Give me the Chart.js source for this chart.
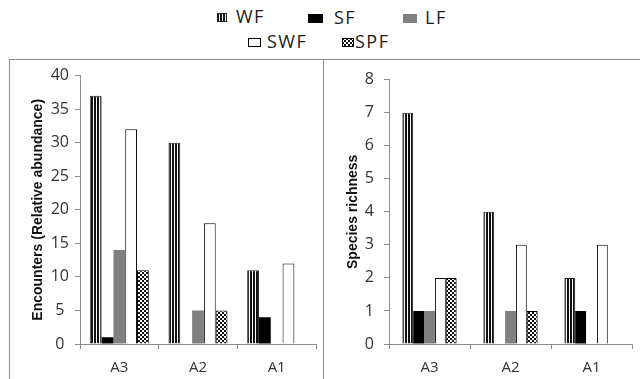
<!DOCTYPE html>
<html>
<head>
<meta charset="utf-8">
<script src="https://cdn.jsdelivr.net/npm/chart.js@4.4.0/dist/chart.umd.min.js"></script>
<style>
  body { margin: 0; background: #fff; width: 640px; height: 379px; overflow: hidden; position: relative; font-family: "Open Sans", sans-serif; }
  .frame { position: absolute; left: 9px; top: 59px; width: 700px; height: 400px; border-top: 1px solid #8c8c8c; border-left: 1px solid #8c8c8c; }
  .divider { position: absolute; left: 323px; top: 59px; width: 1px; height: 400px; background: #8c8c8c; }
  #c1 { position: absolute; left: 10px; top: 60px; }
  #c2 { position: absolute; left: 324px; top: 60px; }
  .lg-text { position: absolute; font-size: 18px; line-height: 1; color: #1a1a1a; letter-spacing: 1.5px; white-space: nowrap; }
  .lg-box { position: absolute; }
</style>
</head>
<body>
<div class="frame"></div>
<div class="divider"></div>
<div id="legend"></div>
<canvas id="c1" width="313" height="319"></canvas>
<canvas id="c2" width="316" height="319"></canvas>
<script>
const categories = ['A3', 'A2', 'A1'];
const seriesNames = ['WF', 'SF', 'LF', 'SWF', 'SPF'];

// Encounters (relative abundance)
const encWF = [37, 30, 11];
const encSF = [1, 0, 4];
const encLF = [14, 5, 0];
const encSWF = [32, 18, 12];
const encSPF = [11, 5, 0];

// Species richness
const richWF = [7, 4, 2];
const richSF = [1, 0, 1];
const richLF = [1, 1, 0];
const richSWF = [2, 3, 3];
const richSPF = [2, 1, 0];

function makePattern(w, h, draw) {
  const c = document.createElement('canvas');
  c.width = w; c.height = h;
  const g = c.getContext('2d');
  g.fillStyle = '#fff';
  g.fillRect(0, 0, w, h);
  g.fillStyle = '#111';
  draw(g);
  return g.createPattern(c, 'repeat');
}

const stripes = makePattern(3, 3, g => g.fillRect(0, 0, 2, 3));
const checker = makePattern(4, 4, g => { g.fillRect(0, 0, 2, 2); g.fillRect(2, 2, 2, 2); });

const styles = [
  { bg: stripes, border: '#222', width: 1 },
  { bg: '#000', border: '#000', width: 0 },
  { bg: '#808080', border: '#808080', width: 0 },
  { bg: '#fff', border: '#000', width: 1 },
  { bg: checker, border: '#000', width: 1 }
];

// legend item placement: swatch x, swatch w, text x, row centre y
const legendPlace = [
  [217, 10, 236, 17], [308, 15, 334, 18], [403, 14, 425, 18],
  [248, 13, 267, 42], [342, 12, 355, 42]
];

const legend = document.getElementById('legend');
seriesNames.forEach((name, i) => {
  const [mx, mw, tx, y] = legendPlace[i];
  const box = document.createElement('canvas');
  box.width = mw; box.height = 9;
  box.className = 'lg-box';
  box.style.left = mx + 'px';
  box.style.top = (y - 4) + 'px';
  const g = box.getContext('2d');
  g.fillStyle = styles[i].bg;
  g.fillRect(0, 0, mw, 9);
  if (styles[i].width) {
    g.strokeStyle = styles[i].border;
    g.lineWidth = 1;
    g.strokeRect(0.5, 0.5, mw - 1, 8);
  }
  legend.appendChild(box);
  const t = document.createElement('div');
  t.className = 'lg-text';
  t.textContent = name;
  t.style.left = tx + 'px';
  t.style.top = (y - 10) + 'px';
  legend.appendChild(t);
});

function buildDatasets(values) {
  return values.map((v, i) => ({
    label: seriesNames[i],
    data: v,
    backgroundColor: styles[i].bg,
    borderColor: styles[i].border,
    borderWidth: styles[i].width
  }));
}

function makeChart(id, values, title, maxY, step, yWidth, labelPad, catPct, rightPad, titlePad) {
  return new Chart(document.getElementById(id), {
    type: 'bar',
    data: { labels: categories, datasets: buildDatasets(values) },
    options: {
      responsive: false,
      animation: false,
      layout: { padding: { top: 15, right: rightPad, left: 0, bottom: 0 } },
      datasets: { bar: { categoryPercentage: catPct, barPercentage: 1 } },
      plugins: { legend: { display: false }, tooltip: { enabled: false } },
      scales: {
        x: {
          grid: { drawOnChartArea: false, color: '#8c8c8c', tickLength: 5 },
          border: { color: '#8c8c8c' },
          ticks: { color: '#333', font: { family: 'Open Sans', size: 15 }, padding: 10 },
          afterFit: s => { s.height = 35; }
        },
        y: {
          min: 0, max: maxY,
          grid: { drawOnChartArea: false, color: '#8c8c8c', tickLength: 5 },
          border: { color: '#8c8c8c' },
          ticks: { stepSize: step, color: '#333', font: { family: 'Open Sans', size: 16 }, padding: labelPad, crossAlign: 'center' },
          title: { display: true, text: title, color: '#111', font: { family: 'Liberation Sans', size: 14, weight: 'bold' }, padding: { top: titlePad, bottom: 0 } },
          afterFit: s => { s.width = yWidth; }
        }
      }
    }
  });
}

makeChart('c1', [encWF, encSF, encLF, encSWF, encSPF], 'Encounters (Relative abundance)', 40, 5, 70, 6, 0.75, 7, 20);
makeChart('c2', [richWF, richSF, richLF, richSWF, richSPF], 'Species richness', 8, 1, 65, 10, 0.67, 8, 21);
</script>
</body>
</html>
